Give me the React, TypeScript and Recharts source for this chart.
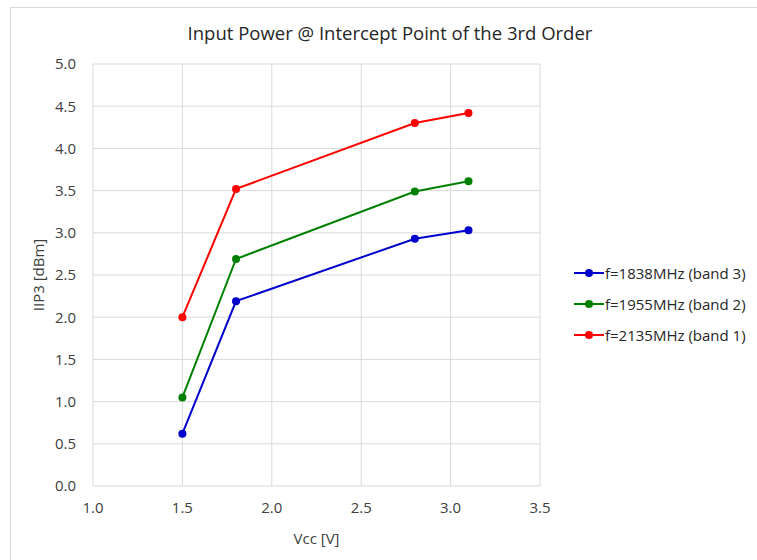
import {
  LineChart,
  Line,
  XAxis,
  YAxis,
  CartesianGrid,
} from "recharts";

const vcc = [1.5, 1.8, 2.8, 3.1];
const band3 = [0.62, 2.19, 2.93, 3.03];
const band2 = [1.05, 2.69, 3.49, 3.61];
const band1 = [2.0, 3.52, 4.3, 4.42];
const xTicks = [1.0, 1.5, 2.0, 2.5, 3.0, 3.5];
const yTicks = [0, 0.5, 1, 1.5, 2, 2.5, 3, 3.5, 4, 4.5, 5];

const series = [
  { key: "b3", name: "f=1838MHz (band 3)", color: "#0000cc" },
  { key: "b2", name: "f=1955MHz (band 2)", color: "#008000" },
  { key: "b1", name: "f=2135MHz (band 1)", color: "#ff0000" },
];

const data = vcc.map((v, i) => ({
  vcc: v,
  b3: band3[i],
  b2: band2[i],
  b1: band1[i],
}));

const font = "'Open Sans', 'Noto Sans', sans-serif";

function LegendBox() {
  return (
    <div style={{ fontFamily: font, fontSize: 15, color: "#262626" }}>
      {series.map((s) => (
        <div
          key={s.key}
          style={{ display: "flex", alignItems: "center", height: 31 }}
        >
          <svg width={30} height={12}>
            <line x1={0} y1={6} x2={30} y2={6} stroke={s.color} strokeWidth={2} />
            <circle cx={15} cy={6} r={4} fill={s.color} />
          </svg>
          <span style={{ marginLeft: 1 }}>{s.name}</span>
        </div>
      ))}
    </div>
  );
}

export default function App() {
  return (
    <div style={{ position: "fixed", left: 0, top: 0, width: 757, height: 560, background: "#fff" }}>
      <div
        style={{
          position: "absolute",
          left: 10,
          top: 7,
          width: 800,
          height: 600,
          borderLeft: "1px solid #d9d9d9",
          borderTop: "1px solid #d9d9d9",
        }}
      />
      <div
        style={{
          position: "absolute",
          left: 0,
          width: 780,
          top: 20,
          textAlign: "center",
          fontFamily: font,
          fontSize: 18.5,
          color: "#262626",
        }}
      >
        Input Power @ Intercept Point of the 3rd Order
      </div>
      <div style={{ position: "absolute", left: 574, top: 257 }}>
        <LegendBox />
      </div>
      <div style={{ position: "absolute", left: 0, top: 0 }}>
        <LineChart
          width={757}
          height={560}
          data={data}
          margin={{ top: 64, right: 217, bottom: 0, left: 0 }}
        >
          <CartesianGrid stroke="#d9d9d9" strokeWidth={1} />
          <XAxis
            dataKey="vcc"
            type="number"
            domain={[1, 3.5]}
            ticks={xTicks}
            tickFormatter={(v: number) => v.toFixed(1)}
            axisLine={false}
            tickLine={false}
            height={74}
            tick={{ fill: "#404040", fontSize: 15, fontFamily: font }}
            tickMargin={10}
            label={{
              value: "Vcc [V]",
              position: "insideBottom",
              offset: 16,
              fill: "#404040",
              fontSize: 15,
              fontFamily: font,
            }}
          />
          <YAxis
            type="number"
            domain={[0, 5]}
            ticks={yTicks}
            tickFormatter={(v: number) => v.toFixed(1)}
            axisLine={false}
            tickLine={false}
            width={93}
            tick={{ fill: "#404040", fontSize: 15, fontFamily: font }}
            tickMargin={11}
            label={{
              value: "IIP3 [dBm]",
              angle: -90,
              position: "insideLeft",
              offset: 39,
              style: { textAnchor: "middle" },
              fill: "#404040",
              fontSize: 15,
              fontFamily: font,
            }}
          />
          {series.map((s) => (
            <Line
              key={s.key}
              dataKey={s.key}
              name={s.name}
              stroke={s.color}
              strokeWidth={2}
              dot={{ r: 4, fill: s.color, stroke: s.color, strokeWidth: 0 }}
              isAnimationActive={false}
            />
          ))}
        </LineChart>
      </div>
    </div>
  );
}
